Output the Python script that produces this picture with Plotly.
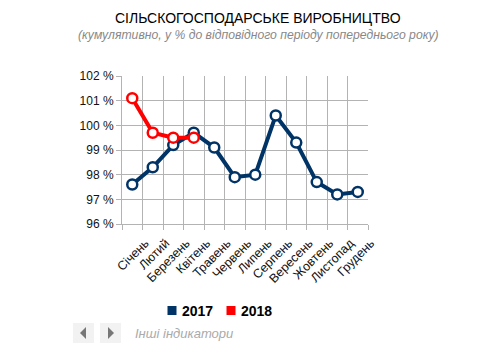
import plotly.graph_objects as go

months = ["Січень", "Лютий", "Березень", "Квітень", "Травень", "Червень",
          "Липень", "Серпень", "Вересень", "Жовтень", "Листопад", "Грудень"]
v2017 = [97.6, 98.3, 99.2, 99.7, 99.1, 97.9, 98.0, 100.4, 99.3, 97.7, 97.2, 97.3]
v2018 = [101.1, 99.7, 99.5, 99.5]
ytick_vals = [96, 97, 98, 99, 100, 101, 102]

NAVY = "#003366"
RED = "#ff0000"
FONT = "Liberation Sans, Arial, sans-serif"

fig = go.Figure()
for name, vals, col in [("2017", v2017, NAVY), ("2018", v2018, RED)]:
    fig.add_trace(go.Scatter(
        x=months[:len(vals)], y=vals, mode="lines+markers", name=name,
        line=dict(color=col, width=4),
        marker=dict(symbol="circle", size=10, color="white",
                    line=dict(color=col, width=2.5)),
        showlegend=False, hoverinfo="x+y"))

L, T, W, H = 122, 76, 246, 148


def px(x):
    return (x - L) / W


def py(y):
    return (T + H - y) / H


fig.update_layout(
    width=482, height=352,
    margin=dict(l=L, r=482 - L - W, t=T, b=352 - T - H),
    paper_bgcolor="white", plot_bgcolor="white",
    font=dict(family=FONT, color="#222"),
    showlegend=False,
    xaxis=dict(type="category", categoryorder="array", categoryarray=months,
               range=[-0.5, 11.5], tickson="boundaries",
               showgrid=True, gridcolor="#b3b3b3", gridwidth=1,
               ticks="outside", ticklen=5, tickcolor="#b3b3b3",
               showline=True, linecolor="#b3b3b3",
               tickangle=-45, ticklabelshift=13, ticklabelstandoff=6,
               tickfont=dict(size=12.5, color="#111")),
    yaxis=dict(range=[96, 102], tickvals=ytick_vals,
               ticktext=[f"{v} %" for v in ytick_vals],
               showgrid=True, gridcolor="#b3b3b3", gridwidth=1,
               ticks="outside", ticklen=5, tickcolor="#b3b3b3",
               showline=True, linecolor="#b3b3b3", zeroline=False,
               tickfont=dict(size=12, color="#111")),
)

fig.add_annotation(text="СІЛЬСКОГОСПОДАРСЬКЕ ВИРОБНИЦТВО", xref="paper", yref="paper",
                   x=px(258), y=py(18), xanchor="center", yanchor="middle", showarrow=False,
                   font=dict(size=14, color="black", family=FONT))
fig.add_annotation(text="<i>(кумулятивно, у % до відповідного періоду попереднього року)</i>",
                   xref="paper", yref="paper", x=px(258), y=py(35),
                   xanchor="center", yanchor="middle",
                   showarrow=False, font=dict(size=12.2, color="#888", family=FONT))

# legend
for name, col, sx in [("2017", NAVY, 172), ("2018", RED, 231)]:
    fig.add_shape(type="rect", xref="paper", yref="paper",
                  x0=px(sx - 4.5), x1=px(sx + 4.5), y0=py(315), y1=py(306),
                  fillcolor=col, line=dict(width=0))
    fig.add_annotation(text=f"<b>{name}</b>", xref="paper", yref="paper",
                       x=px(sx + 8), y=py(310.5), xanchor="left", yanchor="middle",
                       showarrow=False, font=dict(size=14, color="black", family=FONT))

# navigation buttons
for x0 in [73, 100]:
    fig.add_shape(type="rect", xref="paper", yref="paper",
                  x0=px(x0), x1=px(x0 + 21),
                  y0=py(343), y1=py(323),
                  fillcolor="#f2f2f2", line=dict(width=0), layer="below")


def tri(pts):
    d = "M " + " L ".join(f"{px(a):.5f},{py(b):.5f}" for a, b in pts) + " Z"
    fig.add_shape(type="path", xref="paper", yref="paper", path=d,
                  fillcolor="#777", line=dict(width=0))


tri([(80, 333), (86, 327), (86, 339)])
tri([(108, 327), (114, 333), (108, 339)])

fig.add_annotation(text="<i>Інші індикатори</i>", xref="paper", yref="paper",
                   x=px(133), y=py(333), xanchor="left", yanchor="middle",
                   showarrow=False, font=dict(size=13, color="#aaa", family=FONT))

fig.write_html("out.html")
